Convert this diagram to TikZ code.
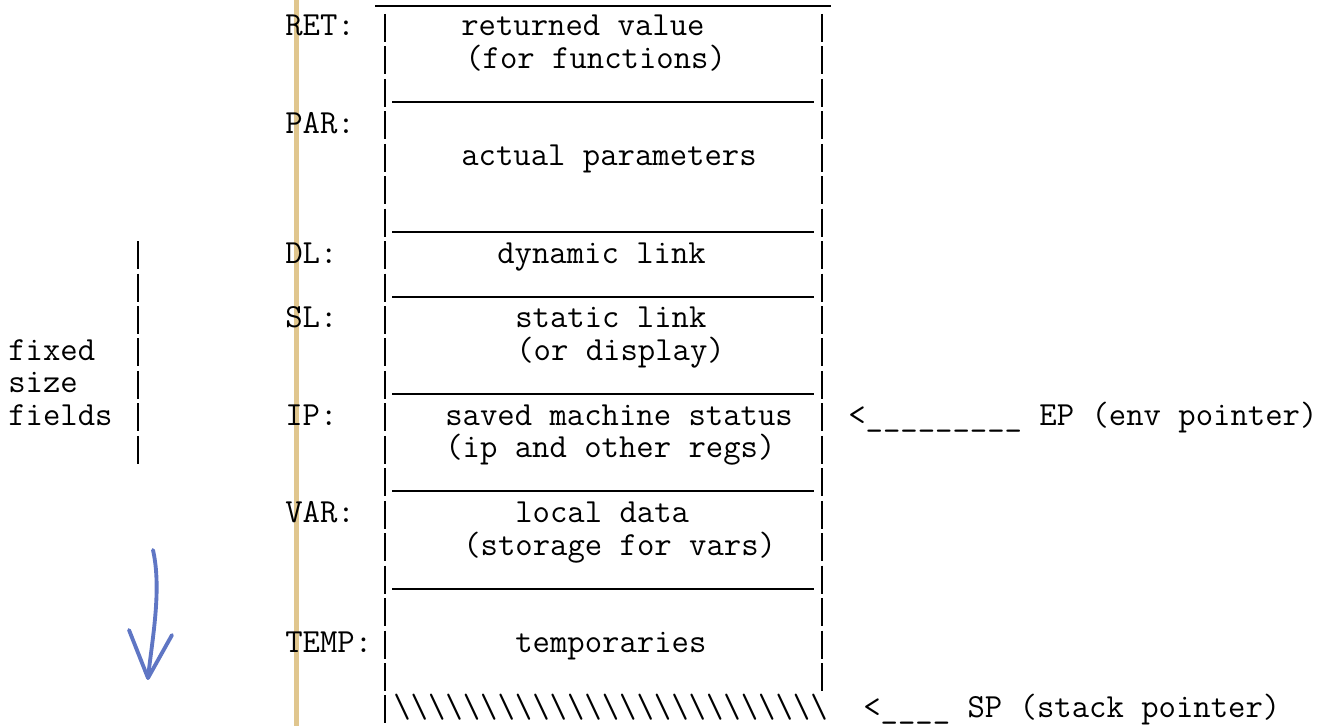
\documentclass[tikz,border=0pt]{standalone}
\usepackage{amsmath}
\usepackage{tikz}

\definecolor{penblue}{RGB}{95,118,196}
\definecolor{margin}{RGB}{224,198,142}

\tikzset{
  tt/.style={font=\ttfamily\fontsize{19.2}{22}\selectfont, inner sep=0pt, anchor=base west},
  rule/.style={line width=1.1pt},
}

\begin{document}
\begin{tikzpicture}[x=0.02cm,y=-0.02cm]
\useasboundingbox (0,0) rectangle (1326,726);
% margin mark of the scan
\draw[margin, line width=0.1cm] (296,0) -- (296,726);

% frame
\draw[rule] (375,6) -- (831,6);
\foreach \r in {0,...,21}
    \draw[rule] (385,{36+32.45*\r-22}) -- (385,{36+32.45*\r+6});
\foreach \r in {0,...,20}
    \draw[rule] (822,{36+32.45*\r-22}) -- (822,{36+32.45*\r+6});
\foreach \r in {2,6,8,11,14,17}
    \draw[rule] (392,{36+32.45*\r+1}) -- (814,{36+32.45*\r+1});

% field names
\node[tt] (ret) at (285,36) {RET:};
\node[tt] (par) at (285,133.4) {PAR:};
\node[tt] (dl) at (285,263.2) {DL:};
\node[tt] (sl) at (285,328) {SL:};
\node[tt] (ip) at (285,425.4) {IP:};
\node[tt] (var) at (285,522.8) {VAR:};
\node[tt] (temp) at (285,652.6) {TEMP:};

% contents
\node[tt] (retval) at (461,36) {returned value};
\node[tt] (retfun) at (465,68.5) {(for functions)};
\node[tt] (params) at (461,165.8) {actual parameters};
\node[tt] (dyn) at (497,263.2) {dynamic link};
\node[tt] (stat) at (515,328) {static link};
\node[tt] (disp) at (516,360.5) {(or display)};
\node[tt] (saved) at (445,425.4) {saved machine status};
\node[tt] (regs) at (445,457.9) {(ip and other regs)};
\node[tt] (local) at (515,522.8) {local data};
\node[tt] (store) at (463,555.2) {(storage for vars)};
\node[tt] (temps) at (515,652.6) {temporaries};
\node[tt] (hatch) at (393,717.5) {\textbackslash\textbackslash\textbackslash\textbackslash\textbackslash\textbackslash\textbackslash\textbackslash\textbackslash\textbackslash\textbackslash\textbackslash\textbackslash\textbackslash\textbackslash\textbackslash\textbackslash\textbackslash\textbackslash\textbackslash\textbackslash\textbackslash\textbackslash\textbackslash\textbackslash};

% pointers
\node[tt] (ep) at (848,425.4) {<\_\_\_\_\_\_\_\_\_ EP (env pointer)};
\node[tt] (sp) at (863,717.5) {<\_\_\_\_ SP (stack pointer)};

% fixed size fields
\node[tt] (fixed) at (8,360.5) {fixed};
\node[tt] (size) at (8,393) {size};
\node[tt] (fields) at (8,425.4) {fields};
\foreach \r in {7,...,13}
    \draw[rule] (138,{36+32.45*\r-22}) -- (138,{36+32.45*\r+6});

% hand drawn arrow
\draw[penblue, line width=2.2pt, line cap=round, line join=round]
    (153,550) .. controls (162,590) and (152,640) .. (148,678);
\draw[penblue, line width=2.2pt, line cap=round, line join=round]
    (129,630) -- (148,678) -- (172,635);
\end{tikzpicture}
\end{document}
